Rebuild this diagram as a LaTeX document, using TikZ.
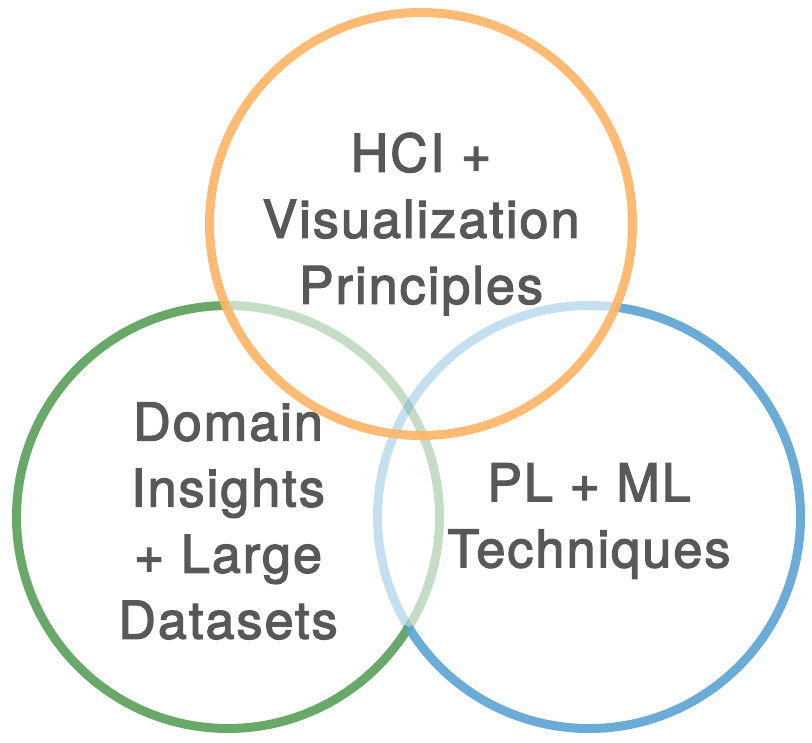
\documentclass[tikz,border=0pt]{standalone}
\usepackage{fontspec}
\usepackage{xcolor}
\usepackage{tikz}
\usetikzlibrary{calc}

\newfontfamily\vennfont{TeX Gyre Heros}[LetterSpace=4,FakeBold=2.5]

\definecolor{vennorange}{RGB}{255,180,100}
\definecolor{venngreen}{RGB}{88,158,88}
\definecolor{vennblue}{RGB}{90,163,211}
\definecolor{venngray}{RGB}{88,88,88}

\begin{document}
\begin{tikzpicture}[
		ring/.style={line width=6.4pt, opacity=0.9},
		faded/.style={line width=6.4pt, opacity=0.35},
		venntext/.style={align=center, text=venngray, font=\vennfont\fontsize{37}{47}\selectfont}
	]
		\useasboundingbox (0,0) rectangle (20.3,18.55);
		\def\r{5.2875}
		
		\coordinate (O) at (10.525,12.95);
		\coordinate (G) at (5.7,5.625);
		\coordinate (B) at (14.725,5.625);
		
		\draw[faded, venngreen] (G) ++(-31.4:\r) arc[start angle=-31.4, end angle=90.55, radius=\r];
		\draw[faded, vennblue] (B) ++(82.8:\r) arc[start angle=82.8, end angle=211.4, radius=\r];
		
		\draw[ring, venngreen] (G) ++(90.55:\r) arc[start angle=90.55, end angle=328.6, radius=\r];
		\draw[ring, vennblue] (B) ++(211.4:\r) arc[start angle=211.4, end angle=442.8, radius=\r];
		
		\draw[ring, vennorange] (O) circle (\r);
		
		\node[venntext] (hci) at (O) {HCI +\\Visualization\\Principles};
		\node[venntext] (domain) at ($(G)+(0,-0.1)$) {Domain\\Insights\\+ Large\\Datasets};
		\node[venntext] (plml) at ($(B)+(0,-0.1)$) {PL + ML\\Techniques};
	\end{tikzpicture}
\end{document}
